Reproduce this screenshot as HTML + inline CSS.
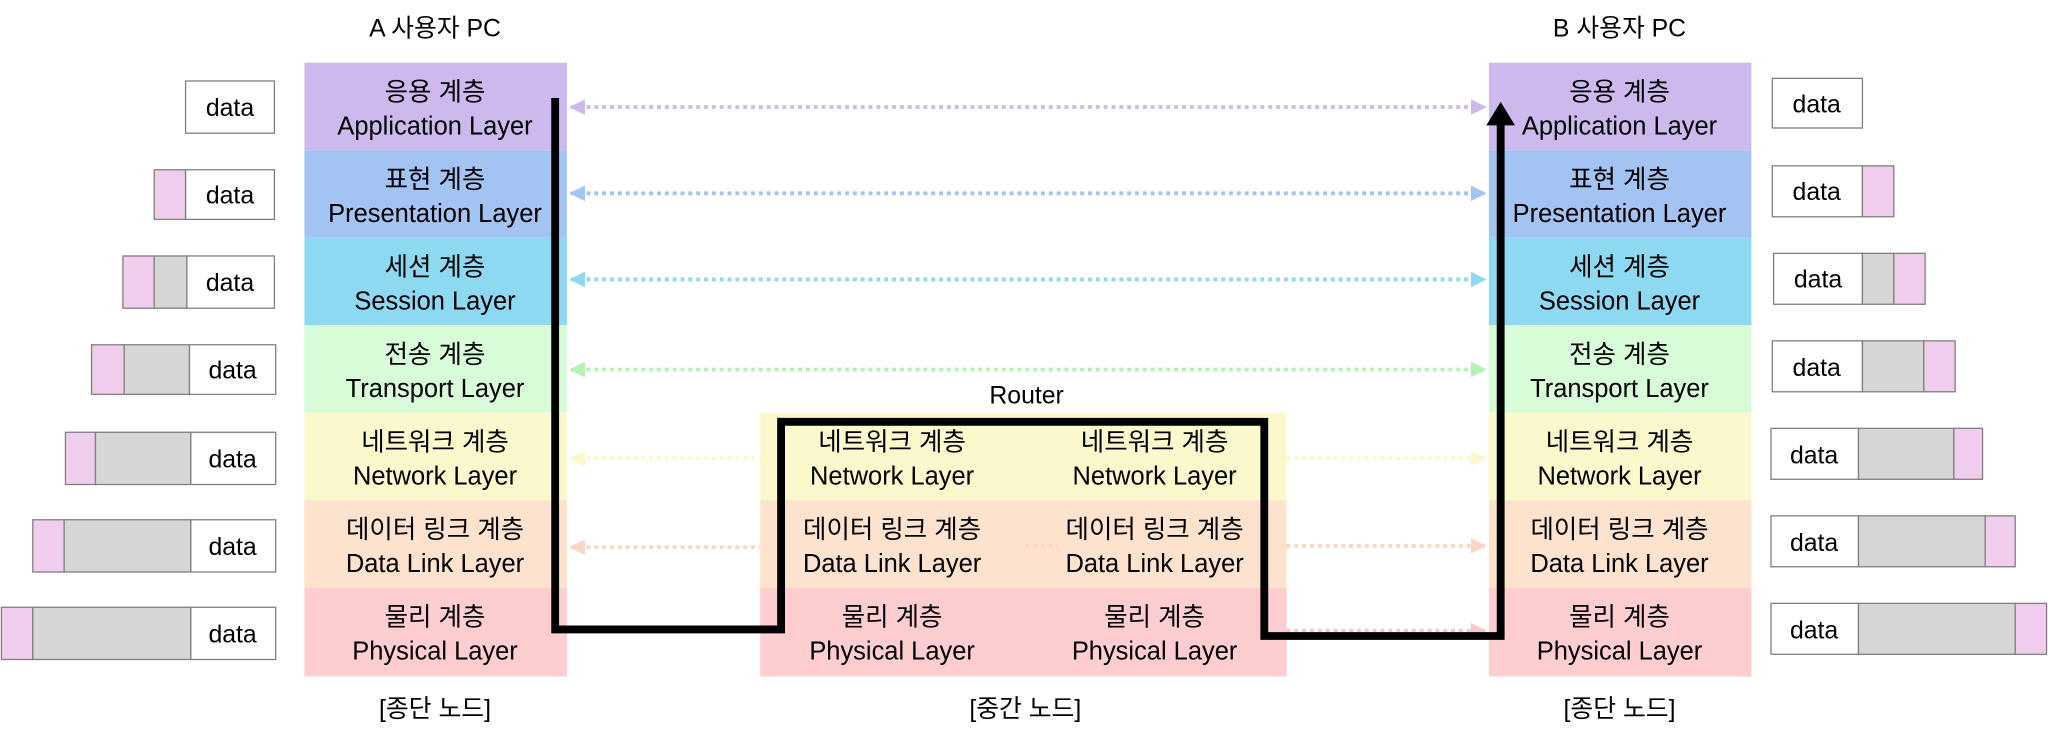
<!DOCTYPE html>
<html><head><meta charset="utf-8"><style>html,body{margin:0;padding:0;background:#fff}svg{display:block}</style></head><body>
<svg width="2048" height="747" viewBox="0 0 1568 572" xmlns="http://www.w3.org/2000/svg" font-family="'Liberation Sans','Noto Sans CJK KR',sans-serif" fill="#000">
<defs>
<marker id="h" viewBox="0 0 10 10" refX="9" refY="5" markerWidth="4" markerHeight="4" orient="auto-start-reverse"><path d="M0,0L10,5L0,10z" fill="context-stroke"/></marker>
</defs>
<g font-size="19" text-anchor="middle">
<text x="333" y="28">A 사용자 PC</text>
<text x="1240" y="28">B 사용자 PC</text>
<text x="786" y="309">Router</text>
<text x="333" y="549">[종단 노드]</text>
<text x="785" y="549">[중간 노드]</text>
<text x="1240" y="549">[종단 노드]</text>
</g>
<g>
<rect x="233" y="48" width="201" height="67" fill="#cdb9ee"/><rect x="233" y="115" width="201" height="67" fill="#a3c3f3"/><rect x="233" y="182" width="201" height="67" fill="#8ed9f2"/><rect x="233" y="249" width="201" height="67" fill="#d8fcd8"/><rect x="233" y="316" width="201" height="67" fill="#fbf8cb"/><rect x="233" y="383" width="201" height="67" fill="#fde2cd"/><rect x="233" y="450" width="201" height="68" fill="#fecdd0"/>
<rect x="1140" y="48" width="201" height="67" fill="#cdb9ee"/><rect x="1140" y="115" width="201" height="67" fill="#a3c3f3"/><rect x="1140" y="182" width="201" height="67" fill="#8ed9f2"/><rect x="1140" y="249" width="201" height="67" fill="#d8fcd8"/><rect x="1140" y="316" width="201" height="67" fill="#fbf8cb"/><rect x="1140" y="383" width="201" height="67" fill="#fde2cd"/><rect x="1140" y="450" width="201" height="68" fill="#fecdd0"/>
<rect x="582" y="316" width="403" height="67" fill="#fbf8cb"/><rect x="582" y="383" width="403" height="67" fill="#fde2cd"/><rect x="582" y="450" width="403" height="68" fill="#fecdd0"/>
</g>
<g font-size="19.5" text-anchor="middle">
<text x="333" y="77">응용 계층</text><text x="333" y="103">Application Layer</text>
<text x="333" y="144">표현 계층</text><text x="333" y="170">Presentation Layer</text>
<text x="333" y="211">세션 계층</text><text x="333" y="237">Session Layer</text>
<text x="333" y="278">전송 계층</text><text x="333" y="304">Transport Layer</text>
<text x="333" y="345">네트워크 계층</text><text x="333" y="371">Network Layer</text>
<text x="333" y="412">데이터 링크 계층</text><text x="333" y="438">Data Link Layer</text>
<text x="333" y="479">물리 계층</text><text x="333" y="505">Physical Layer</text>
<text x="1240" y="77">응용 계층</text><text x="1240" y="103">Application Layer</text>
<text x="1240" y="144">표현 계층</text><text x="1240" y="170">Presentation Layer</text>
<text x="1240" y="211">세션 계층</text><text x="1240" y="237">Session Layer</text>
<text x="1240" y="278">전송 계층</text><text x="1240" y="304">Transport Layer</text>
<text x="1240" y="345">네트워크 계층</text><text x="1240" y="371">Network Layer</text>
<text x="1240" y="412">데이터 링크 계층</text><text x="1240" y="438">Data Link Layer</text>
<text x="1240" y="479">물리 계층</text><text x="1240" y="505">Physical Layer</text>
<text x="683" y="345">네트워크 계층</text><text x="683" y="371">Network Layer</text>
<text x="683" y="412">데이터 링크 계층</text><text x="683" y="438">Data Link Layer</text>
<text x="683" y="479">물리 계층</text><text x="683" y="505">Physical Layer</text>
<text x="884" y="345">네트워크 계층</text><text x="884" y="371">Network Layer</text>
<text x="884" y="412">데이터 링크 계층</text><text x="884" y="438">Data Link Layer</text>
<text x="884" y="479">물리 계층</text><text x="884" y="505">Physical Layer</text>
</g>
<g stroke-width="3" stroke-dasharray="3 3" fill="none">
<line x1="437" y1="82" x2="1137" y2="82" stroke="#cdb9ee" marker-start="url(#h)" marker-end="url(#h)"/>
<line x1="437" y1="148" x2="1137" y2="148" stroke="#a3c3f3" marker-start="url(#h)" marker-end="url(#h)"/>
<line x1="437" y1="214" x2="1137" y2="214" stroke="#8ed9f2" marker-start="url(#h)" marker-end="url(#h)"/>
<line x1="437" y1="283" x2="1137" y2="283" stroke="#b5f0b5" marker-start="url(#h)" marker-end="url(#h)"/>
<line x1="437" y1="351" x2="582" y2="351" stroke="#fbf8cb" marker-start="url(#h)"/>
<line x1="437" y1="419" x2="582" y2="419" stroke="#fdd5c5" marker-start="url(#h)"/>
<line x1="985" y1="351" x2="1137" y2="351" stroke="#fbf8cb" marker-end="url(#h)"/>
<line x1="985" y1="418" x2="1137" y2="418" stroke="#fdd5c5" marker-end="url(#h)"/>
<line x1="785" y1="418" x2="810" y2="418" stroke="#fdd5c5"/>
<line x1="985" y1="483" x2="1137" y2="483" stroke="#fdc5c8" marker-end="url(#h)"/>
</g>
<path d="M425,75 V482 H598 V323 H968 V487 H1149 V95" fill="none" stroke="#000" stroke-width="6"/>
<path d="M1149,78 L1138,96 L1160,96 Z" fill="#000"/>
<g stroke="#808080" stroke-width="1">
<rect x="142" y="62" width="68" height="40" fill="#fff"/>
<rect x="118" y="130" width="24" height="38" fill="#f0cdec"/><rect x="142" y="130" width="68" height="38" fill="#fff"/>
<rect x="94" y="196" width="24" height="40" fill="#f0cdec"/><rect x="118" y="196" width="25" height="40" fill="#d6d6d6"/><rect x="143" y="196" width="67" height="40" fill="#fff"/>
<rect x="70" y="264" width="25" height="38" fill="#f0cdec"/><rect x="95" y="264" width="50" height="38" fill="#d6d6d6"/><rect x="145" y="264" width="66" height="38" fill="#fff"/>
<rect x="50" y="331" width="23" height="40" fill="#f0cdec"/><rect x="73" y="331" width="73" height="40" fill="#d6d6d6"/><rect x="146" y="331" width="65" height="40" fill="#fff"/>
<rect x="25" y="398" width="24" height="40" fill="#f0cdec"/><rect x="49" y="398" width="97" height="40" fill="#d6d6d6"/><rect x="146" y="398" width="65" height="40" fill="#fff"/>
<rect x="1" y="465" width="24" height="40" fill="#f0cdec"/><rect x="25" y="465" width="121" height="40" fill="#d6d6d6"/><rect x="146" y="465" width="65" height="40" fill="#fff"/>
<rect x="1357" y="60" width="69" height="38" fill="#fff"/>
<rect x="1357" y="127" width="69" height="39" fill="#fff"/><rect x="1426" y="127" width="24" height="39" fill="#f0cdec"/>
<rect x="1358" y="194" width="68" height="39" fill="#fff"/><rect x="1426" y="194" width="24" height="39" fill="#d6d6d6"/><rect x="1450" y="194" width="24" height="39" fill="#f0cdec"/>
<rect x="1357" y="261" width="69" height="39" fill="#fff"/><rect x="1426" y="261" width="47" height="39" fill="#d6d6d6"/><rect x="1473" y="261" width="24" height="39" fill="#f0cdec"/>
<rect x="1356" y="328" width="67" height="39" fill="#fff"/><rect x="1423" y="328" width="73" height="39" fill="#d6d6d6"/><rect x="1496" y="328" width="22" height="39" fill="#f0cdec"/>
<rect x="1356" y="395" width="67" height="39" fill="#fff"/><rect x="1423" y="395" width="97" height="39" fill="#d6d6d6"/><rect x="1520" y="395" width="23" height="39" fill="#f0cdec"/>
<rect x="1356" y="462" width="67" height="39" fill="#fff"/><rect x="1423" y="462" width="120" height="39" fill="#d6d6d6"/><rect x="1543" y="462" width="24" height="39" fill="#f0cdec"/>
</g>
<g font-size="19" text-anchor="middle">
<text x="176" y="89">data</text><text x="176" y="156">data</text><text x="176" y="223">data</text><text x="178" y="290">data</text><text x="178" y="358">data</text><text x="178" y="425">data</text><text x="178" y="492">data</text>
<text x="1391" y="86">data</text><text x="1391" y="153">data</text><text x="1392" y="220">data</text><text x="1391" y="288">data</text><text x="1389" y="355">data</text><text x="1389" y="422">data</text><text x="1389" y="489">data</text>
</g>
</svg>
</body></html>
